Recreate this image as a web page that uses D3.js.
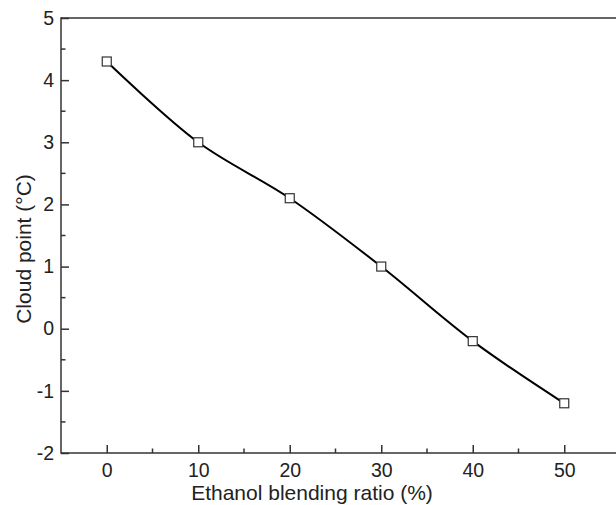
<!DOCTYPE html>
<html><head><meta charset="utf-8">
<script src="https://cdn.jsdelivr.net/npm/d3@7"></script>
<style>html,body{margin:0;background:#fff;overflow:hidden}svg{display:block}</style>
</head><body>
<script>
const ratios = [0, 10, 20, 30, 40, 50];
const cloudPoints = [4.3, 3.0, 2.1, 1.0, -0.2, -1.2];
const xTicks = [0, 10, 20, 30, 40, 50];
const yTicks = [-2, -1, 0, 1, 2, 3, 4, 5];
const xTitle = "Ethanol blending ratio (%)";
const yTitle = "Cloud point (°C)";

const W = 616, H = 505;
const svg = d3.select("body").append("svg").attr("width", W).attr("height", H);
const font = "'Liberation Sans', Arial, sans-serif";
const axisColor = "#333";
const textColor = "#222";

const x = d3.scaleLinear().domain([-5, 56]).range([61, 61 + 61 * 9.15]);
const y = d3.scaleLinear().domain([-2, 5]).range([453, 18]);
const fmt = d => String(d);

const g = svg.append("g");
g.append("line").attr("x1", x(-5)).attr("x2", x(-5)).attr("y1", y(-2) + 0.75).attr("y2", y(5) - 0.75).attr("stroke", axisColor).attr("stroke-width", 1.5);
g.append("line").attr("x1", x(-5)).attr("x2", W).attr("y1", y(-2)).attr("y2", y(-2)).attr("stroke", axisColor).attr("stroke-width", 1.5);
g.append("line").attr("x1", x(-5)).attr("x2", W).attr("y1", y(5)).attr("y2", y(5)).attr("stroke", axisColor).attr("stroke-width", 1.5);

// x ticks (inward)
const xAxis = d3.axisBottom(x).tickValues(xTicks).tickSize(-8).tickPadding(10).tickFormat(fmt);
const xa = svg.append("g").attr("transform", `translate(0,${y(-2)})`).call(xAxis);
xa.select(".domain").remove();
xa.selectAll("line").attr("stroke", axisColor).attr("stroke-width", 1.5);
xa.selectAll("text").attr("font-family", font).attr("font-size", 19.5).attr("fill", textColor);
const xMinor = [5, 15, 25, 35, 45];
svg.append("g").selectAll("line").data(xMinor).join("line")
  .attr("x1", d => x(d)).attr("x2", d => x(d)).attr("y1", y(-2)).attr("y2", y(-2) - 4.5)
  .attr("stroke", axisColor).attr("stroke-width", 1.5);

// y ticks (inward)
const yAxis = d3.axisLeft(y).tickValues(yTicks).tickSize(-8).tickPadding(7).tickFormat(fmt);
const ya = svg.append("g").attr("transform", `translate(${x(-5)},0)`).call(yAxis);
ya.select(".domain").remove();
ya.selectAll("line").attr("stroke", axisColor).attr("stroke-width", 1.5);
ya.selectAll("text").attr("font-family", font).attr("font-size", 19.5).attr("fill", textColor);
const yMinor = [-1.5, -0.5, 0.5, 1.5, 2.5, 3.5, 4.5];
svg.append("g").selectAll("line").data(yMinor).join("line")
  .attr("x1", x(-5)).attr("x2", x(-5) + 4.5).attr("y1", d => y(d)).attr("y2", d => y(d))
  .attr("stroke", axisColor).attr("stroke-width", 1.5);

// line
const data = ratios.map((r, i) => ({x: r, y: cloudPoints[i]}));
const line = d3.line().x(d => x(d.x)).y(d => y(d.y)).curve(d3.curveCatmullRom);
svg.append("path").datum(data).attr("d", line).attr("fill", "none").attr("stroke", "#000").attr("stroke-width", 2);

// markers
svg.append("g").selectAll("rect").data(data).join("rect")
  .attr("x", d => x(d.x) - 4.5).attr("y", d => y(d.y) - 4.5)
  .attr("width", 9).attr("height", 9)
  .attr("fill", "#fff").attr("stroke", "#333").attr("stroke-width", 1.2);

// titles
svg.append("text").attr("x", 312).attr("y", 500).attr("text-anchor", "middle")
  .attr("font-family", font).attr("font-size", 21).attr("fill", textColor).text(xTitle);
svg.append("text").attr("transform", `translate(31,249) rotate(-90)`).attr("text-anchor", "middle")
  .attr("font-family", font).attr("font-size", 21).attr("fill", textColor).text(yTitle);
</script>
</body></html>
